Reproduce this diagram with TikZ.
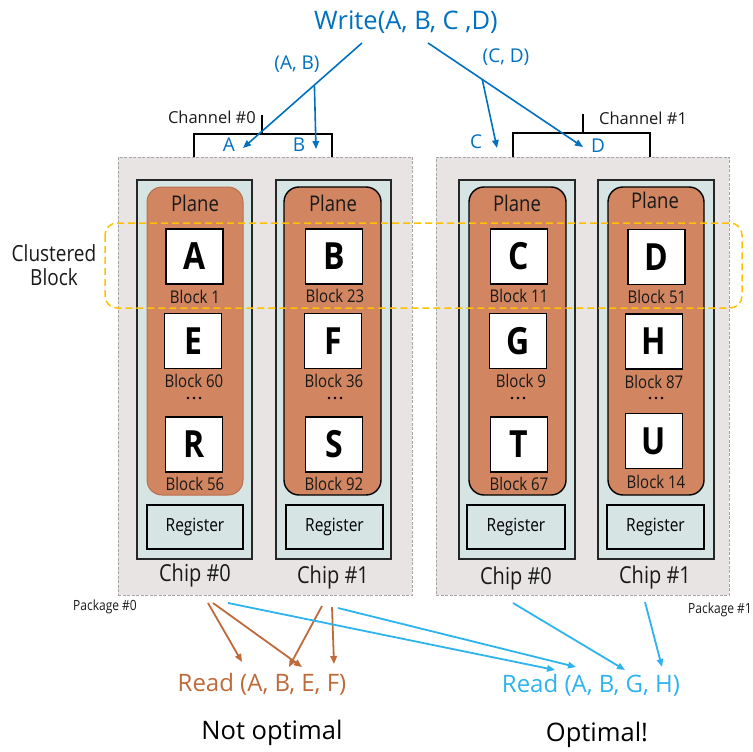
\documentclass[tikz,border=0pt]{standalone}
\usepackage{fontspec}
\usepackage{graphicx}
\setmainfont{Open Sans}
\usetikzlibrary{arrows.meta}

\definecolor{pkgfill}{HTML}{E8E4E3}
\definecolor{pkgline}{HTML}{A6A6A6}
\definecolor{chipfill}{HTML}{D6E4E4}
\definecolor{planefill}{HTML}{D18561}
\definecolor{planeedge}{HTML}{B8714F}
\definecolor{wblue}{HTML}{0070C0}
\definecolor{rbrown}{HTML}{BE6A3A}
\definecolor{rblue}{HTML}{2DB4EE}
\definecolor{clgold}{HTML}{FFC000}

% text inside the packages is set slightly taller than wide
\newcommand{\tall}[1]{\scalebox{1}[1.17]{#1}}

\tikzset{
  pkg/.style={draw=pkgline, fill=pkgfill, dash pattern=on 3pt off 1.5pt, line width=0.9pt},
  chip/.style={draw=black!85, fill=chipfill, line width=1.6pt},
  plane/.style={draw=black, fill=planefill, line width=1.4pt, rounded corners=15pt},
  blk/.style={draw=black, fill=white, line width=1.3pt, minimum width=57pt, minimum height=55pt,
    inner sep=0pt, font=\fontsize{32}{32}\selectfont\bfseries},
  reg/.style={draw=black, fill=chipfill, line width=1.6pt, inner sep=0pt,
    font=\fontsize{15.5}{15.5}\selectfont},
  lbl/.style={inner sep=0pt, text=black!90},
  planelbl/.style={lbl, font=\fontsize{18.5}{18.5}\selectfont},
  blklbl/.style={lbl, font=\fontsize{15}{15}\selectfont},
  chiplbl/.style={lbl, font=\fontsize{20}{20}\selectfont},
  chanlbl/.style={lbl, font=\fontsize{16.5}{16.5}\selectfont},
  pkglbl/.style={lbl, font=\fontsize{12}{12}\selectfont},
  wtxt/.style={inner sep=0pt, text=wblue},
  chan/.style={draw=black, line width=1.5pt},
  warr/.style={draw=wblue, line width=1.6pt, -{Triangle[length=8pt,width=6.5pt]}},
  barr/.style={draw=rbrown, line width=1.8pt, -{Triangle[length=8pt,width=6.5pt]}},
  larr/.style={draw=rblue, line width=1.8pt, -{Triangle[length=8pt,width=6.5pt]}},
  cluster/.style={draw=clgold, line width=1.5pt, dash pattern=on 7pt off 4pt, rounded corners=12pt},
  dot/.style={circle, fill=black, inner sep=0pt, minimum size=2.8pt}
}

\begin{document}
\begin{tikzpicture}[x=1pt, y=-1pt]
\useasboundingbox (0,0) rectangle (753,752);

% ---------- packages ----------
\node[pkg, minimum width=294pt, minimum height=438pt] (pkg0) at (265,376) {};
\node[pkg, minimum width=293pt, minimum height=438pt] (pkg1) at (582.5,376) {};

% ---------- channel brackets ----------
\draw[chan] (262,115) -- (262,134);
\draw[chan] (194,157) -- (194,134) -- (332,134) -- (332,157);
\draw[chan] (583,114) -- (583,133);
\draw[chan] (513,157) -- (513,133) -- (650,133) -- (650,157);
\node[chanlbl, anchor=east] (ch0) at (256,117) {Channel \#0};
\node[chanlbl, anchor=west] (ch1) at (599,118) {Channel \#1};

% ---------- chips ----------
\node[chip, minimum width=115pt, minimum height=379pt] (chipA) at (194.5,369.5) {};
\node[chip, minimum width=115pt, minimum height=379pt] (chipB) at (333.5,369.5) {};
\node[chip, minimum width=116pt, minimum height=379pt] (chipC) at (517,369.5) {};
\node[chip, minimum width=116pt, minimum height=379pt] (chipD) at (656,369.5) {};

% ---------- planes ----------
\node[plane, draw=planeedge, line width=1pt, minimum width=96pt, minimum height=308pt] (plA) at (195,341) {};
\node[plane, minimum width=97pt, minimum height=308pt] (plB) at (332.5,341) {};
\node[plane, minimum width=97pt, minimum height=308pt] (plC) at (517.5,341) {};
\node[plane, minimum width=96pt, minimum height=308pt] (plD) at (656,341) {};
\node[planelbl] (plAt) at (195,203) {\tall{Plane}};
\node[planelbl] (plBt) at (333,203) {\tall{Plane}};
\node[planelbl] (plCt) at (517,203) {\tall{Plane}};
\node[planelbl] (plDt) at (655,200) {\tall{Plane}};

% ---------- blocks ----------
\node[blk] (bA) at (194.5,256.5) {\tall{A}};
\node[blk] (bE) at (193,341) {\tall{E}};
\node[blk] (bR) at (194,444.5) {\tall{R}};
\node[blk] (bB) at (334,256.5) {\tall{B}};
\node[blk] (bF) at (333,341) {\tall{F}};
\node[blk] (bS) at (334,444.5) {\tall{S}};
\node[blk] (bC) at (519,256.5) {\tall{C}};
\node[blk] (bG) at (518,341) {\tall{G}};
\node[blk] (bT) at (519,444.5) {\tall{T}};
\node[blk] (bD) at (656.5,257) {\tall{D}};
\node[blk] (bH) at (654,341.5) {\tall{H}};
\node[blk] (bU) at (654,441) {\tall{U}};

\node[blklbl] (lA) at (195,297) {\tall{Block 1}};
\node[blklbl] (lE) at (194,381) {\tall{Block 60}};
\node[blklbl] (lR) at (195,484) {\tall{Block 56}};
\node[blklbl] (lB) at (335,296) {\tall{Block 23}};
\node[blklbl] (lF) at (334,381) {\tall{Block 36}};
\node[blklbl] (lS) at (334,484) {\tall{Block 92}};
\node[blklbl] (lC) at (519,296) {\tall{Block 11}};
\node[blklbl] (lG) at (521,381) {\tall{Block 9}};
\node[blklbl] (lT) at (519,484) {\tall{Block 67}};
\node[blklbl] (lD) at (657,297) {\tall{Block 51}};
\node[blklbl] (lH) at (654,382) {\tall{Block 87}};
\node[blklbl] (lU) at (656,482) {\tall{Block 14}};

% ellipsis dots between the second and last block of each plane
\foreach \cx/\nm in {194/A, 335/B, 518/C, 656/D}{
  \node[dot] (d\nm1) at (\cx-6,398) {};
  \node[dot] (d\nm2) at (\cx,398) {};
  \node[dot] (d\nm3) at (\cx+6,398) {};
}

% ---------- registers ----------
\node[reg, minimum width=96pt, minimum height=44pt] (rA) at (195,527) {\tall{Register}};
\node[reg, minimum width=97pt, minimum height=44pt] (rB) at (334.5,527) {\tall{Register}};
\node[reg, minimum width=98pt, minimum height=44pt] (rC) at (516,527) {\tall{Register}};
\node[reg, minimum width=97pt, minimum height=44pt] (rD) at (655.5,527) {\tall{Register}};

% ---------- chip labels ----------
\node[chiplbl] (cA) at (195,575) {\tall{Chip \#0}};
\node[chiplbl] (cB) at (333,577) {\tall{Chip \#1}};
\node[chiplbl] (cC) at (516,578) {\tall{Chip \#0}};
\node[chiplbl] (cD) at (655,577) {\tall{Chip \#1}};

\node[pkglbl] (pl0) at (105,607) {\tall{Package \#0}};
\node[pkglbl, anchor=east] (pl1) at (752,610) {\tall{Package \#1}};

% ---------- clustered block ----------
\node[lbl, font=\fontsize{19}{22}\selectfont, align=center] (clt) at (54,265)
  {\tall{Clustered}\\[2pt]\tall{Block}};
\draw[cluster] (105,223) rectangle (742,308);

% ---------- write request ----------
\node[wtxt, font=\fontsize{25.5}{25.5}\selectfont] (write) at (406,22) {Write(A, B, C ,D)};
\node[wtxt, font=\fontsize{19}{19}\selectfont] (ab) at (297,64) {(A, B)};
\node[wtxt, font=\fontsize{19}{19}\selectfont] (cd) at (506,57) {(C, D)};
\node[wtxt, font=\fontsize{19}{19}\selectfont] (tA) at (229,145) {A};
\node[wtxt, font=\fontsize{19}{19}\selectfont] (tB) at (299,145) {B};
\node[wtxt, font=\fontsize{19}{19}\selectfont] (tC) at (476,142) {C};
\node[wtxt, font=\fontsize{19}{19}\selectfont] (tD) at (598,146) {D};

\coordinate (wl) at (362,43);
\coordinate (wr) at (428,43);
\coordinate (aA) at (243,148);
\coordinate (aB) at (316,149);
\coordinate (aC) at (497,148);
\coordinate (aD) at (583,147);

\draw[warr] (wl) -- coordinate[pos=0.40] (jAB) (aA);
\draw[warr] (jAB) -- (aB);
\draw[warr] (wr) -- coordinate[pos=0.35] (jCD) (aD);
\draw[warr] (jCD) -- (aC);

% ---------- read requests ----------
\node[inner sep=0pt, text=rbrown, font=\fontsize{24}{24}\selectfont] (rdA) at (262,684) {Read (A, B, E, F)};
\node[inner sep=0pt, text=rblue, font=\fontsize{24}{24}\selectfont] (rdB) at (591,685) {Read (A, B, G, H)};
\node[inner sep=0pt, font=\fontsize{25.5}{25.5}\selectfont] (no) at (272,733) {Not optimal};
\node[inner sep=0pt, font=\fontsize{25.5}{25.5}\selectfont] (yes) at (597,735) {Optimal!};

\coordinate (s1) at (208,603);  \coordinate (e1) at (242,662);
\coordinate (s2) at (213,603);  \coordinate (e2) at (302,667);
\coordinate (s3) at (322,606);  \coordinate (e3) at (289,667);
\coordinate (s4) at (332,607);  \coordinate (e4) at (334,664);
\draw[barr] (s1) -- (e1);
\draw[barr] (s2) -- (e2);
\draw[barr] (s3) -- (e3);
\draw[barr] (s4) -- (e4);

\coordinate (t1) at (228,603);  \coordinate (f1) at (555,670);
\coordinate (t2) at (338,608);  \coordinate (f2) at (576,667);
\coordinate (t3) at (513,603);  \coordinate (f3) at (625,670);
\coordinate (t4) at (645,602);  \coordinate (f4) at (662,667);
\draw[larr] (t1) -- (f1);
\draw[larr] (t2) -- (f2);
\draw[larr] (t3) -- (f3);
\draw[larr] (t4) -- (f4);
\end{tikzpicture}
\end{document}
